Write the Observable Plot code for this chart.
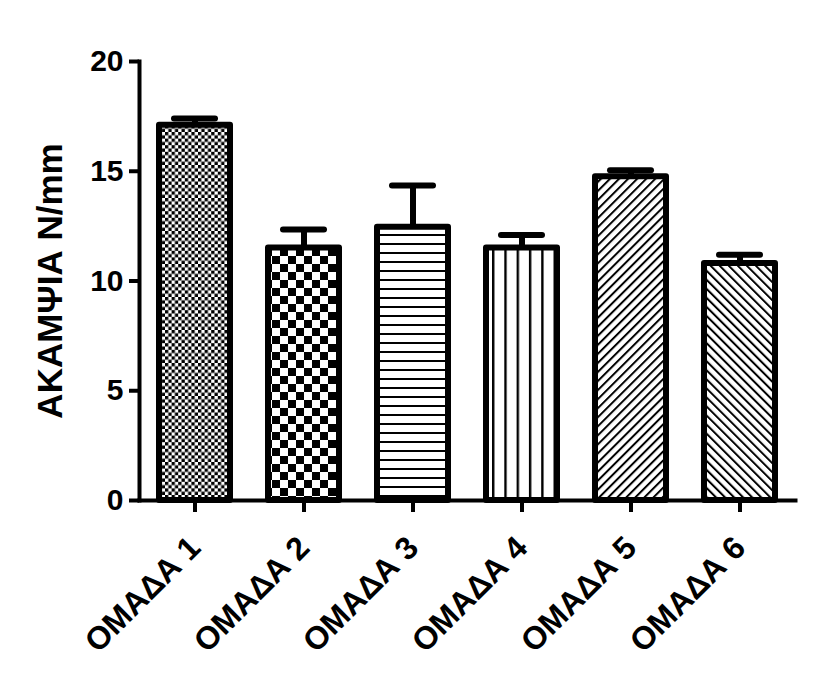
<!DOCTYPE html>
<html>
<head>
<meta charset="utf-8">
<script src="https://cdn.jsdelivr.net/npm/d3@7"></script>
<script src="https://cdn.jsdelivr.net/npm/@observablehq/plot@0.6"></script>
<style>
  html, body { margin: 0; padding: 0; background: #fff; }
</style>
</head>
<body>
<div id="chart"></div>
<script>
const groups = ["ΟΜΑΔΑ 1", "ΟΜΑΔΑ 2", "ΟΜΑΔΑ 3", "ΟΜΑΔΑ 4", "ΟΜΑΔΑ 5", "ΟΜΑΔΑ 6"];
const means = [17.1, 11.5, 12.45, 11.5, 14.75, 10.8];
const errors = [0.3, 0.85, 1.9, 0.6, 0.3, 0.4];
const yTicks = [0, 5, 10, 15, 20];
const yLabel = "ΑΚΑΜΨΙΑ N/mm";
const patternIds = ["pat1", "pat2", "pat3", "pat4", "pat5", "pat6"];

const data = groups.map((g, i) => ({
  group: g, mean: means[i], top: means[i] + errors[i], fill: `url(#${patternIds[i]})`
}));

const chart = Plot.plot({
  width: 815,
  height: 685,
  marginTop: 61,
  marginBottom: 185,
  marginLeft: 139,
  marginRight: 20,
  style: { fontFamily: "'Liberation Sans', Arial, sans-serif", fontWeight: "bold", background: "#fff", color: "#000" },
  x: { domain: groups, paddingInner: 0.347, paddingOuter: 0.18, label: null },
  y: { domain: [0, 20], ticks: yTicks, label: null },
  color: { type: "identity" },
  marks: [
    Plot.barY(data, { x: "group", y: "mean", fill: "fill", stroke: "#000", strokeWidth: 6, strokeLinejoin: "round" }),
    Plot.ruleX(data, { x: "group", y1: "mean", y2: "top", stroke: "#000", strokeWidth: 6 }),
    Plot.tickY(data, { x: "group", y: "top", stroke: "#000", strokeWidth: 6, strokeLinecap: "round", insetLeft: 15, insetRight: 15 }),
    Plot.frame({ anchor: "left", stroke: "#000", strokeWidth: 4 }),
    Plot.frame({ anchor: "bottom", stroke: "#000", strokeWidth: 4 }),
    Plot.axisY({ ticks: yTicks, tickSize: 10, tickPadding: 6, strokeWidth: 4, fontSize: 30, label: null }),
    Plot.axisX({ tickSize: 12, tickPadding: 30, tickRotate: -45, strokeWidth: 4, fontSize: 32, label: null }),
    Plot.text([yLabel], { frameAnchor: "left", textAnchor: "middle", rotate: -90, dx: -89, fontSize: 35, fontWeight: "bold", fill: "#000" })
  ]
});

// SVG hatch/checker patterns
const ns = "http://www.w3.org/2000/svg";
const defs = document.createElementNS(ns, "defs");
defs.innerHTML = `
  <pattern id="pat1" patternUnits="userSpaceOnUse" width="6.6" height="6.6">
    <rect width="6.6" height="6.6" fill="#fff"/>
    <rect x="0" y="0" width="3.3" height="3.3" fill="#000"/>
    <rect x="3.3" y="3.3" width="3.3" height="3.3" fill="#000"/>
  </pattern>
  <pattern id="pat2" patternUnits="userSpaceOnUse" width="16" height="16">
    <rect width="16" height="16" fill="#fff"/>
    <rect x="0" y="0" width="8" height="8" fill="#000"/>
    <rect x="8" y="8" width="8" height="8" fill="#000"/>
  </pattern>
  <pattern id="pat3" patternUnits="userSpaceOnUse" width="10" height="9">
    <rect width="10" height="9" fill="#fff"/>
    <rect x="0" y="0" width="10" height="2" fill="#000"/>
  </pattern>
  <pattern id="pat4" patternUnits="userSpaceOnUse" width="12.3" height="10">
    <rect width="12.3" height="10" fill="#fff"/>
    <rect x="0" y="0" width="2.4" height="10" fill="#000"/>
  </pattern>
  <pattern id="pat5" patternUnits="userSpaceOnUse" width="6.4" height="6.4" patternTransform="rotate(45)">
    <rect width="6.4" height="6.4" fill="#fff"/>
    <rect x="0" y="0" width="2" height="6.4" fill="#000"/>
  </pattern>
  <pattern id="pat6" patternUnits="userSpaceOnUse" width="6.4" height="6.4" patternTransform="rotate(-45)">
    <rect width="6.4" height="6.4" fill="#fff"/>
    <rect x="0" y="0" width="2" height="6.4" fill="#000"/>
  </pattern>`;
chart.insertBefore(defs, chart.firstChild);
document.getElementById("chart").appendChild(chart);
</script>
</body>
</html>
